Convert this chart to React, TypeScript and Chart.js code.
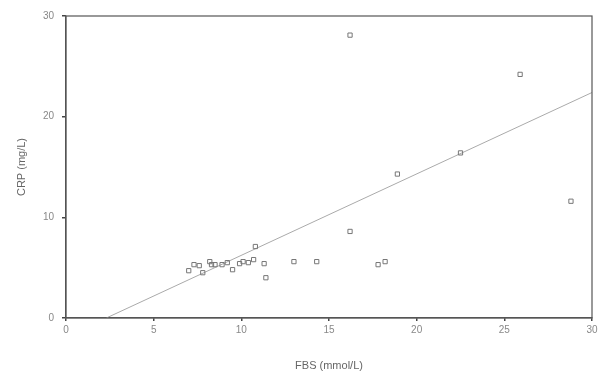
import React, { useEffect, useRef } from "react";
import { Chart, registerables } from "chart.js";

Chart.register(...registerables);

// FBS (mmol/L) values of the points
const fbsValues = [
  7.0, 7.3, 7.6, 7.8, 8.2, 8.3, 8.5, 8.9, 9.2, 9.5, 9.9, 10.1, 10.4, 10.7, 10.8,
  11.3, 11.4, 13.0, 14.3, 16.2, 16.2, 17.8, 18.2, 18.9, 22.5, 25.9, 28.8,
];
// CRP (mg/L) values of the points
const crpValues = [
  4.7, 5.3, 5.2, 4.5, 5.6, 5.3, 5.3, 5.3, 5.5, 4.8, 5.4, 5.6, 5.5, 5.8, 7.1,
  5.4, 4.0, 5.6, 5.6, 8.6, 28.1, 5.3, 5.6, 14.3, 16.4, 24.2, 11.6,
];
// Regression line end points
const lineX = [2.3, 30];
const lineY = [0, 22.4];

const xTicks = [0, 5, 10, 15, 20, 25, 30];
const yTicks = [0, 10, 20, 30];

const FONT = "'Liberation Sans', Arial, sans-serif";

export default function App() {
  const ref = useRef<HTMLCanvasElement | null>(null);
  useEffect(() => {
    if (!ref.current) return;
    const boxPlugin = {
      id: "box",
      afterDraw(chart: any) {
        const { ctx, chartArea } = chart;
        ctx.save();
        ctx.strokeStyle = "#555";
        ctx.lineWidth = 1.2;
        ctx.strokeRect(
          chartArea.left,
          chartArea.top,
          chartArea.right - chartArea.left,
          chartArea.bottom - chartArea.top
        );
        ctx.restore();
      },
    };
    const chart = new Chart(ref.current, {
      type: "scatter",
      data: {
        datasets: [
          {
            type: "scatter",
            data: fbsValues.map((x, i) => ({ x, y: crpValues[i] })),
            pointStyle: "rect",
            pointRadius: 3,
            borderColor: "#777",
            backgroundColor: "rgba(255,255,255,0)",
            borderWidth: 1,
          },
          {
            type: "line",
            data: lineX.map((x, i) => ({ x, y: lineY[i] })),
            borderColor: "#aaa",
            borderWidth: 1,
            pointRadius: 0,
            fill: false,
          } as any,
        ],
      },
      options: {
        animation: false,
        responsive: false,
        layout: { padding: { left: 0, top: 16, right: 14, bottom: 0 } },
        plugins: {
          legend: { display: false },
          tooltip: { enabled: false },
        },
        scales: {
          x: {
            type: "linear",
            min: 0,
            max: 30,
            afterBuildTicks: (s: any) => {
              s.ticks = xTicks.map((v) => ({ value: v }));
            },
            afterFit: (s: any) => {
              s.height = 55;
            },
            border: { color: "#555", width: 1.2 },
            grid: {
              drawOnChartArea: false,
              drawTicks: true,
              tickLength: 3,
              color: "#444",
              lineWidth: 1.5,
            },
            ticks: {
              color: "#888",
              font: { family: FONT, size: 10 },
              padding: 3,
              maxRotation: 0,
            },
            title: {
              display: true,
              text: "FBS (mmol/L)",
              color: "#666",
              font: { family: FONT, size: 11 },
              padding: { top: 12, bottom: 0 },
            },
          },
          y: {
            type: "linear",
            min: 0,
            max: 30,
            afterBuildTicks: (s: any) => {
              s.ticks = yTicks.map((v) => ({ value: v }));
            },
            afterFit: (s: any) => {
              s.width = 66;
            },
            border: { color: "#555", width: 1.2 },
            grid: {
              drawOnChartArea: false,
              drawTicks: true,
              tickLength: 4,
              color: "#444",
              lineWidth: 1.5,
            },
            ticks: {
              color: "#888",
              font: { family: FONT, size: 10 },
              padding: 8,
            },
            title: {
              display: true,
              text: "CRP (mg/L)",
              color: "#666",
              font: { family: FONT, size: 11 },
              padding: { top: 15, bottom: 4 },
            },
          },
        },
      },
      plugins: [boxPlugin],
    } as any);
    return () => chart.destroy();
  }, []);
  return (
    <div
      style={{
        position: "fixed",
        left: 0,
        top: 0,
        width: 606,
        height: 373,
        background: "#fff",
      }}
    >
      <canvas ref={ref} width={606} height={373} />
    </div>
  );
}
